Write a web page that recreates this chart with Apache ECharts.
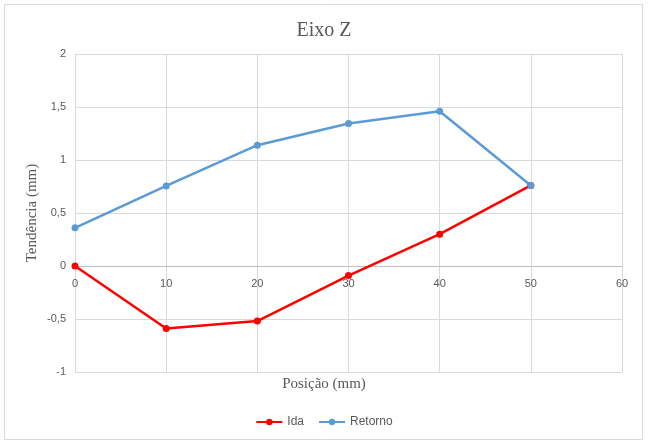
<!DOCTYPE html>
<html>
<head>
<meta charset="utf-8">
<script src="https://cdn.jsdelivr.net/npm/echarts@6/dist/echarts.min.js"></script>
<style>
html,body{margin:0;padding:0;background:#fff;}
#c{width:648px;height:441px;}
</style>
</head>
<body>
<div id="c"></div>
<script>
const positions = [0, 10, 20, 30, 40, 50];
const ida = [0, -0.59, -0.52, -0.09, 0.30, 0.76];
const retorno = [0.36, 0.755, 1.14, 1.345, 1.46, 0.76];
const chartTitle = 'Eixo Z';
const xName = 'Posição (mm)';
const yName = 'Tendência (mm)';

const fmt = v => String(v).replace('.', ',');
const chart = echarts.init(document.getElementById('c'));
const serif = '"Liberation Serif","Times New Roman",serif';
const sans = '"Liberation Sans","Open Sans",sans-serif';

chart.setOption({
  animation: false,
  backgroundColor: '#fff',
  title: [
    { text: chartTitle, left: 'center', top: 16,
      textStyle: { fontFamily: serif, fontSize: 20, fontWeight: 'normal', color: '#595959' } },
    { text: xName, left: 'center', top: 372,
      textStyle: { fontFamily: serif, fontSize: 15, fontWeight: 'normal', color: '#595959' } }
  ],
  graphic: [
    { type: 'rect', shape: { x: 4.5, y: 4.5, width: 638, height: 435 },
      style: { fill: 'none', stroke: '#d9d9d9', lineWidth: 1 }, silent: true, z: -1 }
  ],
  legend: {
    bottom: 8, left: 'center',
    itemWidth: 26, itemHeight: 8, itemGap: 14,
    textStyle: { fontFamily: sans, fontSize: 12, color: '#595959' },
    data: ['Ida', 'Retorno']
  },
  grid: [
    { left: 75, right: 26, top: 54, bottom: 69 },
    { left: 75, right: 26, top: 54, bottom: 175 }
  ],
  xAxis: [
    {
      gridIndex: 0, type: 'value', min: 0, max: 60, interval: 10,
      axisLine: { onZero: true, lineStyle: { color: '#bfbfbf', width: 1 } },
      axisTick: { show: false },
      axisLabel: { show: false },
      splitLine: { show: true, lineStyle: { color: '#d9d9d9', width: 1 } }
    },
    {
      gridIndex: 1, type: 'value', min: 0, max: 60, interval: 10,
      axisLine: { show: false },
      axisTick: { show: false },
      axisLabel: { fontFamily: sans, fontSize: 11, color: '#595959', margin: 12 },
      splitLine: { show: false }
    }
  ],
  yAxis: [
    {
      gridIndex: 0, type: 'value', min: -1, max: 2, interval: 0.5,
      name: yName, nameLocation: 'middle', nameGap: 35, nameRotate: 90,
      nameMoveOverlap: false,
      nameTextStyle: { fontFamily: serif, fontSize: 15, color: '#595959' },
      axisLine: { show: false },
      axisTick: { show: false },
      axisLabel: { fontFamily: sans, fontSize: 11, color: '#595959', margin: 9, formatter: fmt },
      splitLine: { show: true, lineStyle: { color: '#d9d9d9', width: 1 } }
    },
    {
      gridIndex: 1, type: 'value', min: 0, max: 1, show: false
    }
  ],
  series: [
    { name: 'Ida', type: 'line', data: positions.map((x, i) => [x, ida[i]]),
      symbol: 'circle', symbolSize: 7,
      lineStyle: { color: '#ff0000', width: 2.5 }, itemStyle: { color: '#ff0000' } },
    { name: 'Retorno', type: 'line', data: positions.map((x, i) => [x, retorno[i]]),
      symbol: 'circle', symbolSize: 7,
      lineStyle: { color: '#5b9bd5', width: 2.5 }, itemStyle: { color: '#5b9bd5' } }
  ]
});
</script>
</body>
</html>
